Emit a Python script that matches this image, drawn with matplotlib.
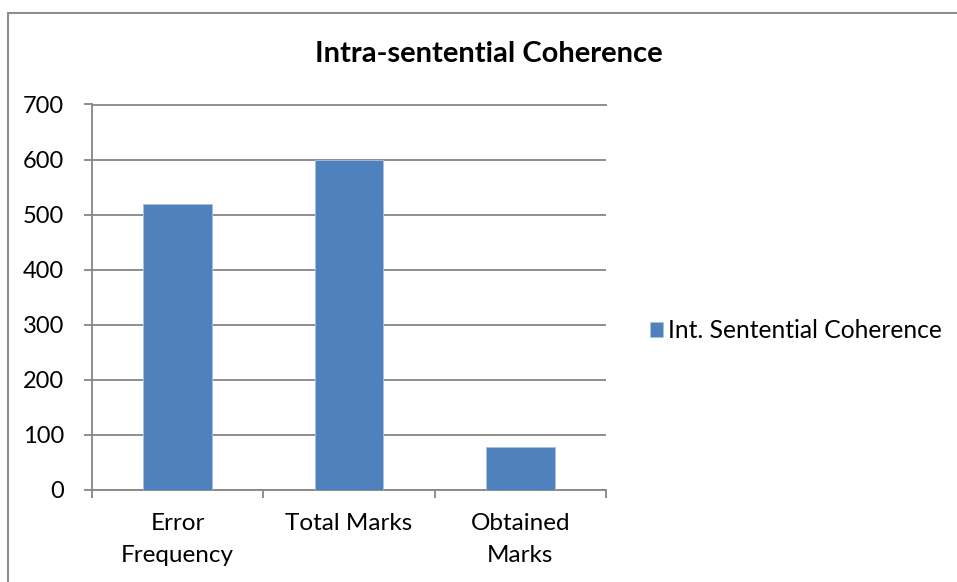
import matplotlib.pyplot as plt
import numpy as np
from matplotlib.patches import Rectangle

# chart data
categories = ["Error\nFrequency", "Total Marks", "Obtained\nMarks"]
values = [520, 600, 78]
series_name = "Int. Sentential Coherence"
y_ticks = [0, 100, 200, 300, 400, 500, 600, 700]

BAR_COLOR = "#4F81BD"
GRID_COLOR = "#868686"

plt.rcParams["font.family"] = ["Lato", "DejaVu Sans"]

fig = plt.figure(figsize=(9.57, 5.82), dpi=100)
ax = fig.add_axes([92 / 957, 92.5 / 582, 514 / 957, 385 / 582])

x = np.arange(len(categories))
ax.bar(x, values, width=0.4, color=BAR_COLOR, edgecolor="#A9C1E0",
       linewidth=0.6, label=series_name, zorder=3)

ax.set_xlim(-0.5, len(categories) - 0.5)
ax.set_ylim(0, 700)
ax.set_yticks(y_ticks)
ax.yaxis.grid(True, color=GRID_COLOR, linewidth=1.3, zorder=0)

# category labels on major ticks, boundary marks on minor ticks
ax.set_xticks(x)
ax.set_xticklabels(categories, linespacing=1.65)
ax.set_xticks(np.arange(len(categories) + 1) - 0.5, minor=True)
ax.tick_params(axis="x", which="major", length=0, pad=17, labelsize=17.5)
ax.tick_params(axis="x", which="minor", length=6, width=1.3, color=GRID_COLOR,
               direction="out")
ax.tick_params(axis="y", length=6, width=1.3, color=GRID_COLOR, pad=14,
               labelsize=17)

ax.spines["right"].set_visible(False)
for side in ("left", "bottom", "top"):
    ax.spines[side].set_color(GRID_COLOR)
    ax.spines[side].set_linewidth(1.3)

fig.text(489 / 957, 1 - 54 / 582, "Intra-sentential Coherence",
         ha="center", va="center", fontsize=21, fontweight="bold")

fig.legend(loc="center left", bbox_to_anchor=(640 / 957, 1 - 331 / 582),
           frameon=False, fontsize=17.7, handlelength=0.55, handleheight=0.55,
           handletextpad=0.2, borderaxespad=0)

# outer chart frame (runs off the right and bottom edges)
fig.patches.append(Rectangle((8 / 957, -0.1), 1.2, 1.1 - 13 / 582,
                             transform=fig.transFigure, fill=False,
                             edgecolor="#8C8C8C", linewidth=1.5))

fig.savefig("out.png", dpi=100)
